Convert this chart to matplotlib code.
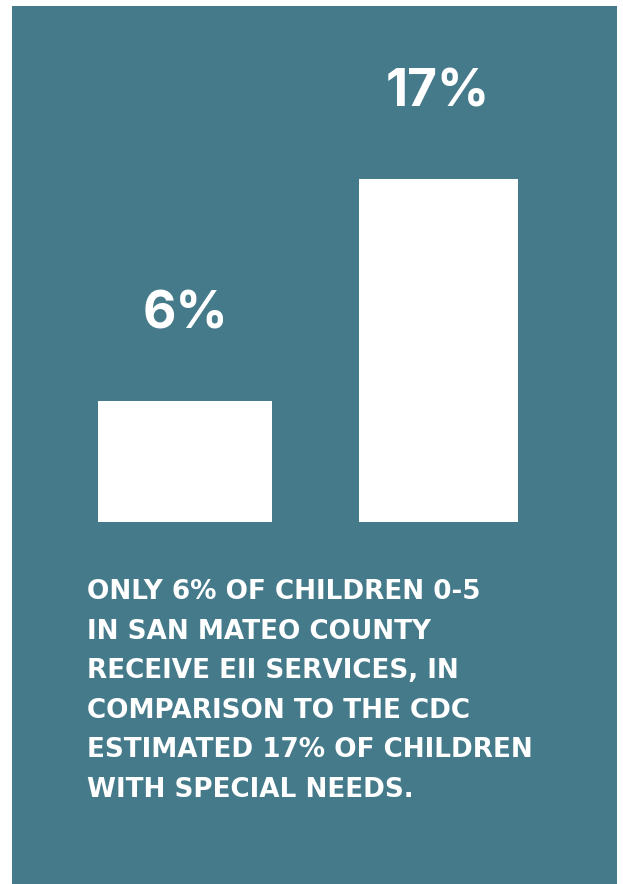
import matplotlib
matplotlib.use('Agg')
import matplotlib.pyplot as plt
from matplotlib.patches import Rectangle

OUTPUT_FILE = 'out.png'

# data
values = [6, 17]
value_labels = ['6%', '17%']
caption_lines = ['ONLY 6% OF CHILDREN 0-5',
                 'IN SAN MATEO COUNTY',
                 'RECEIVE EII SERVICES, IN',
                 'COMPARISON TO THE CDC',
                 'ESTIMATED 17% OF CHILDREN',
                 'WITH SPECIAL NEEDS.']

W, H = 623, 884
TEAL = '#457a8b'
plt.rcParams['font.family'] = ['DejaVu Sans']

fig = plt.figure(figsize=(W/100, H/100), dpi=100)
fig.patch.set_facecolor('white')
fig.patches.append(Rectangle((12/W, 0), (617-12)/W, (884-6)/H,
                             transform=fig.transFigure, facecolor=TEAL,
                             edgecolor='none', zorder=-5))

# axes over whole figure: x in pixels, y in percent
ax = fig.add_axes([0, 0, 1, 1])
ax.set_zorder(2)
ax.set_facecolor('none')
px_per_pct = 20.17
base = 884 - 522
ax.set_xlim(0, W)
ax.set_ylim(-base/px_per_pct, (H-base)/px_per_pct)
ax.axis('off')

centers = [185, 438]
widths = [174, 159]
ax.bar(centers, values, width=widths, color='white', edgecolor='none')

for c, v, lab in zip(centers, values, value_labels):
    ax.text(c, v + 3.6, lab, ha='center', va='baseline', color='white',
            fontsize=37, fontweight='bold', family=['Inter', 'DejaVu Sans'])

# caption
y = 599
for line in caption_lines:
    fig.text(87/W, 1 - y/H, line, ha='left', va='baseline', color='white',
             fontsize=18.9, fontweight='bold', zorder=3)
    y += 39.6

fig.savefig(OUTPUT_FILE, dpi=100, facecolor=fig.get_facecolor())
